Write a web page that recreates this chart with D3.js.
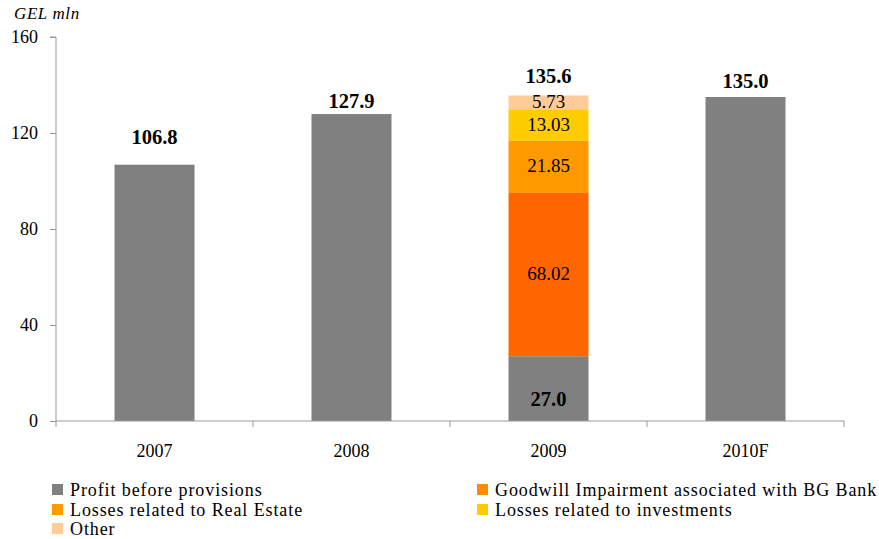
<!DOCTYPE html>
<html><head><meta charset="utf-8">
<script src="https://cdn.jsdelivr.net/npm/d3@7/dist/d3.min.js"></script>
<style>body{margin:0;background:#fff}svg{display:block}text{font-family:"Liberation Serif","Times New Roman",serif;fill:#000}</style>
</head><body><svg id="c" width="879" height="539"></svg>
<script>
const categories = ["2007","2008","2009","2010F"];
const profit = [106.8, 127.9, 27.0, 135.0];
const realEstate = [0, 0, 68.02, 0];
const goodwill = [0, 0, 21.85, 0];
const investments = [0, 0, 13.03, 0];
const other = [0, 0, 5.73, 0];
const totals = [106.8, 127.9, 135.6, 135.0];
const yTicks = [0, 40, 80, 120, 160];
const unitLabel = "GEL mln";
const legendItems = ["Profit before provisions","Goodwill Impairment associated with BG Bank","Losses related to Real Estate","Losses related to investments","Other"];
const legendColors = ["#808080","#FF8C00","#FF9900","#FFCC00","#FFCC99"];

// style: how far each total label sits above its bar (px)
const labelLift = [21, 6, 13, 9];

const svg = d3.select("#c");
const m = {l:56, r:844, t:37, b:421};
const x = d3.scaleBand().domain(categories).range([m.l, m.r]).paddingInner(0.594).paddingOuter(0.297);
const y = d3.scaleLinear().domain([0,160]).range([m.b, m.t]);

const seriesKeys = ["profit","realEstate","goodwill","investments","other"];
const seriesColors = ["#808080","#FF6600","#FF9900","#FFCC00","#FFCC99"];
const rows = categories.map((c,i)=>({cat:c, profit:profit[i], realEstate:realEstate[i], goodwill:goodwill[i], investments:investments[i], other:other[i]}));
const stack = d3.stack().keys(seriesKeys)(rows);

svg.append("g").selectAll("g").data(stack).join("g").attr("fill",(d,i)=>seriesColors[i])
  .selectAll("rect").data(d=>d.filter(s=>s[1]-s[0]>0)).join("rect")
  .attr("x",d=>x(d.data.cat)).attr("width",x.bandwidth())
  .attr("y",d=>y(d[1])).attr("height",d=>y(d[0])-y(d[1]));

// segment labels (2009 losses)
stack.slice(1).forEach((layer,k)=>{
  layer.forEach(s=>{
    const v = s[1]-s[0];
    if(v>0){
      svg.append("text").attr("x",x(s.data.cat)+x.bandwidth()/2).attr("y",(y(s[0])+y(s[1]))/2)
        .attr("dy","0.3em").attr("text-anchor","middle").attr("font-size",19).text(v.toFixed(2));
    }
  });
});
// profit label inside 2009 stacked bar
rows.forEach((r,i)=>{
  if(r.realEstate>0){
    svg.append("text").attr("x",x(r.cat)+x.bandwidth()/2).attr("y",y(r.profit/2)+10)
      .attr("dy","0.35em").attr("text-anchor","middle").attr("font-size",20.5).attr("font-weight","bold").text(r.profit.toFixed(1));
  }
});
// total labels
categories.forEach((c,i)=>{
  svg.append("text").attr("x",x(c)+x.bandwidth()/2).attr("y",y(totals[i])-labelLift[i])
    .attr("text-anchor","middle").attr("font-size",20.5).attr("font-weight","bold").text(totals[i].toFixed(1));
});

// y axis
const ya = svg.append("g").attr("transform",`translate(${m.l},0)`)
  .call(d3.axisLeft(y).tickValues(yTicks).tickSize(6).tickPadding(12).tickFormat(d3.format("d")));
ya.select(".domain").attr("stroke","#999").attr("d",`M-6,${m.t}H0V${m.b}`);
ya.selectAll("line").attr("stroke","#999");
ya.selectAll("text").attr("font-size",18).attr("fill","#000");

// x axis
const xa = svg.append("g").attr("transform",`translate(0,${m.b})`);
xa.append("line").attr("x1",m.l).attr("x2",m.r).attr("stroke","#999");
const bounds = categories.map(c=>x(c)-x.step()*x.paddingInner()/2).concat([m.r]);
xa.selectAll("line.t").data(bounds).join("line").attr("class","t").attr("x1",d=>d).attr("x2",d=>d).attr("y1",0).attr("y2",6).attr("stroke","#999");
xa.selectAll("text").data(categories).join("text").attr("x",d=>x(d)+x.bandwidth()/2).attr("y",36)
  .attr("text-anchor","middle").attr("font-size",18).text(d=>d);

// unit label
svg.append("text").attr("x",14).attr("y",19).attr("font-size",17).attr("letter-spacing","0.6").attr("font-style","italic").text(unitLabel);

// legend
const legPos = [[52,490],[477,490],[52,510],[477,510],[52,529]];
legendItems.forEach((t,i)=>{
  const g = svg.append("g").attr("transform",`translate(${legPos[i][0]},${legPos[i][1]})`);
  g.append("rect").attr("x",0).attr("y",-6).attr("width",11).attr("height",11).attr("fill",legendColors[i]);
  g.append("text").attr("x",18).attr("y",0).attr("dy","0.33em").attr("font-size",18).attr("letter-spacing","0.9").text(t);
});
</script></body></html>
